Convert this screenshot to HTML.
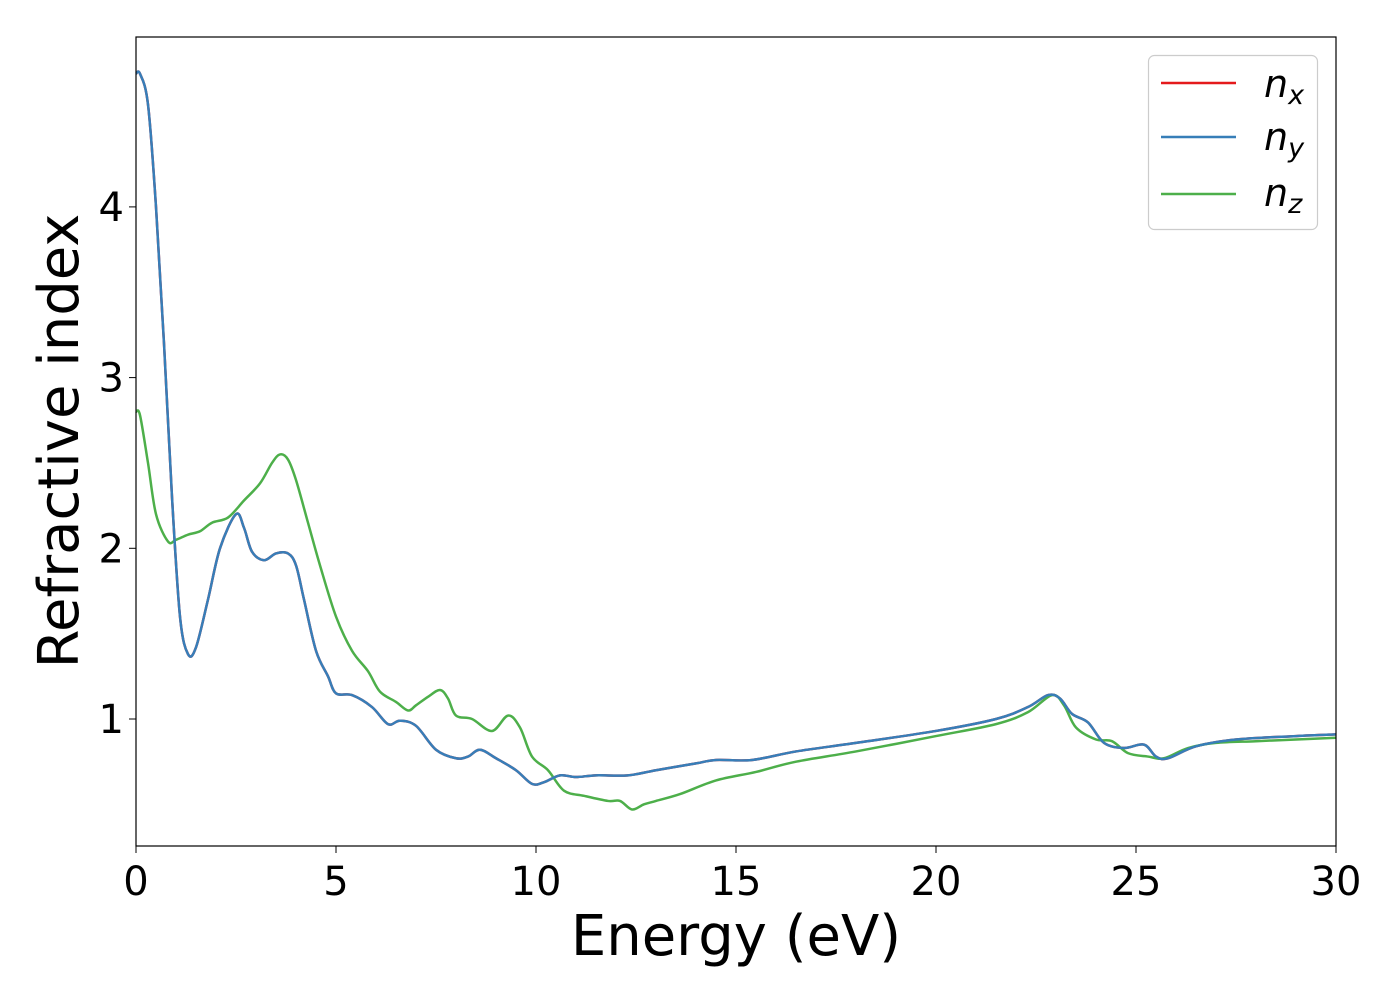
<!DOCTYPE html>
<html><head><meta charset="utf-8"><style>
body{margin:0;background:#fff}
svg text{font-family:"DejaVu Sans","Liberation Sans",sans-serif}
</style></head><body>
<svg id="chart" width="1400" height="1000" viewBox="0 0 1400 1000" xmlns="http://www.w3.org/2000/svg">
<g id="ticks"></g>
<g id="lines"></g>
<rect x="136" y="37" width="1200" height="809" fill="none" stroke="#000" stroke-width="1.2"/>
<text x="736" y="955" font-size="56" text-anchor="middle">Energy (eV)</text>
<text transform="translate(78,441) rotate(-90)" font-size="56" text-anchor="middle">Refractive index</text>
<g>
<rect x="1148.5" y="55.5" width="169" height="174" rx="6" fill="#fff" stroke="#ccc" stroke-width="1.2"/>
<line x1="1161" y1="83" x2="1236" y2="83" stroke="#e41a1c" stroke-width="2.5"/>
<text x="1264" y="97" font-size="38" font-style="italic">n<tspan font-size="27" dy="7">x</tspan></text>
<line x1="1161" y1="137" x2="1236" y2="137" stroke="#377eb8" stroke-width="2.5"/>
<text x="1264" y="150" font-size="38" font-style="italic">n<tspan font-size="27" dy="7">y</tspan></text>
<line x1="1161" y1="194" x2="1236" y2="194" stroke="#4daf4a" stroke-width="2.5"/>
<text x="1264" y="206" font-size="38" font-style="italic">n<tspan font-size="27" dy="7">z</tspan></text>
</g>
</svg>
<script>
const xTicks=[0,5,10,15,20,25,30];
const yTicks=[1,2,3,4];
const nxyE=[0,0.1,0.3,0.5,0.7,0.9,1.1,1.3,1.5,1.8,2.1,2.5,2.7,2.9,3.2,3.5,3.8,4.0,4.2,4.5,4.8,5.0,5.4,5.9,6.3,6.6,7.0,7.5,8.0,8.3,8.6,9.0,9.5,9.9,10.2,10.6,11.0,11.5,12.3,13,14,14.5,15.4,16.5,18,20,21.5,22.3,22.8,23.1,23.4,23.8,24.2,24.7,25.2,25.5,25.8,26.5,27.5,29,30];
const nxyV=[4.78,4.78,4.6,4.0,3.2,2.3,1.6,1.38,1.42,1.7,2.0,2.2,2.12,1.98,1.93,1.97,1.97,1.9,1.7,1.4,1.25,1.15,1.14,1.07,0.97,0.99,0.96,0.82,0.77,0.78,0.82,0.77,0.7,0.62,0.63,0.67,0.66,0.67,0.67,0.7,0.74,0.76,0.76,0.81,0.86,0.93,1.0,1.07,1.14,1.12,1.03,0.98,0.86,0.83,0.85,0.78,0.77,0.84,0.88,0.9,0.91];
const nzE=[0,0.1,0.3,0.5,0.8,1,1.3,1.6,1.9,2.3,2.7,3.1,3.4,3.6,3.8,4.0,4.3,4.6,5.0,5.4,5.8,6.1,6.5,6.8,7.0,7.3,7.6,7.8,8.0,8.4,8.9,9.3,9.6,9.9,10.3,10.7,11.2,11.8,12.1,12.4,12.7,13.0,13.6,14.5,15.5,16.5,18,20,21.5,22.3,22.9,23.2,23.5,24,24.4,24.8,25.3,25.7,26.3,27,28,29,30];
const nzV=[2.8,2.78,2.5,2.2,2.04,2.05,2.08,2.1,2.15,2.18,2.28,2.38,2.5,2.55,2.52,2.4,2.15,1.9,1.6,1.4,1.28,1.16,1.1,1.05,1.08,1.13,1.17,1.12,1.02,1.0,0.93,1.02,0.95,0.78,0.7,0.58,0.55,0.52,0.52,0.47,0.5,0.52,0.56,0.64,0.69,0.75,0.81,0.9,0.97,1.04,1.14,1.08,0.95,0.88,0.87,0.8,0.78,0.77,0.83,0.86,0.87,0.88,0.89];
const X=v=>136+v*40, Y=v=>719-(v-1)*170.7;
const NS='http://www.w3.org/2000/svg';
const tg=document.getElementById('ticks');
xTicks.forEach(t=>{
 const l=document.createElementNS(NS,'line');
 
 
 l.setAttribute('x1',X(t));l.setAttribute('x2',X(t));l.setAttribute('y1',846);l.setAttribute('y2',853);l.setAttribute('stroke','#000');
 tg.appendChild(l);
 const s=document.createElementNS(NS,'text');
 
 
 s.setAttribute('x',X(t));s.setAttribute('y',895);s.setAttribute('font-size','40');s.setAttribute('text-anchor','middle');
 s.textContent=t;tg.appendChild(s);
});
yTicks.forEach(t=>{
 const l=document.createElementNS(NS,'line');
 
 
 l.setAttribute('x1',129);l.setAttribute('x2',136);l.setAttribute('y1',Y(t));l.setAttribute('y2',Y(t));l.setAttribute('stroke','#000');
 tg.appendChild(l);
 const s=document.createElementNS(NS,'text');
 
 
 s.setAttribute('x',124);s.setAttribute('y',Y(t)+14);s.setAttribute('font-size','40');s.setAttribute('text-anchor','end');
 s.textContent=t;tg.appendChild(s);
});
function path(E,V){
 const p=E.map((e,i)=>[X(e),Y(V[i])]);
 let d='M'+p[0][0]+','+p[0][1];
 for(let i=0;i<p.length-1;i++){
  const p0=p[i-1]||p[i],p1=p[i],p2=p[i+1],p3=p[i+2]||p2;
  const c1=[p1[0]+(p2[0]-p0[0])/6,p1[1]+(p2[1]-p0[1])/6];
  const c2=[p2[0]-(p3[0]-p1[0])/6,p2[1]-(p3[1]-p1[1])/6];
  d+=' C'+c1+' '+c2+' '+p2;
 }
 return d;
}
const lg=document.getElementById('lines');
[['nx-line',nxyE,nxyV,'#e41a1c'],['nz-line',nzE,nzV,'#4daf4a'],['ny-line',nxyE,nxyV,'#377eb8']].forEach(s=>{
 const el=document.createElementNS(NS,'path');
 
 
 el.setAttribute('d',path(s[1],s[2]));el.setAttribute('fill','none');el.setAttribute('stroke',s[3]);el.setAttribute('stroke-width','2.5');
 lg.appendChild(el);
});
</script>
</body></html>
